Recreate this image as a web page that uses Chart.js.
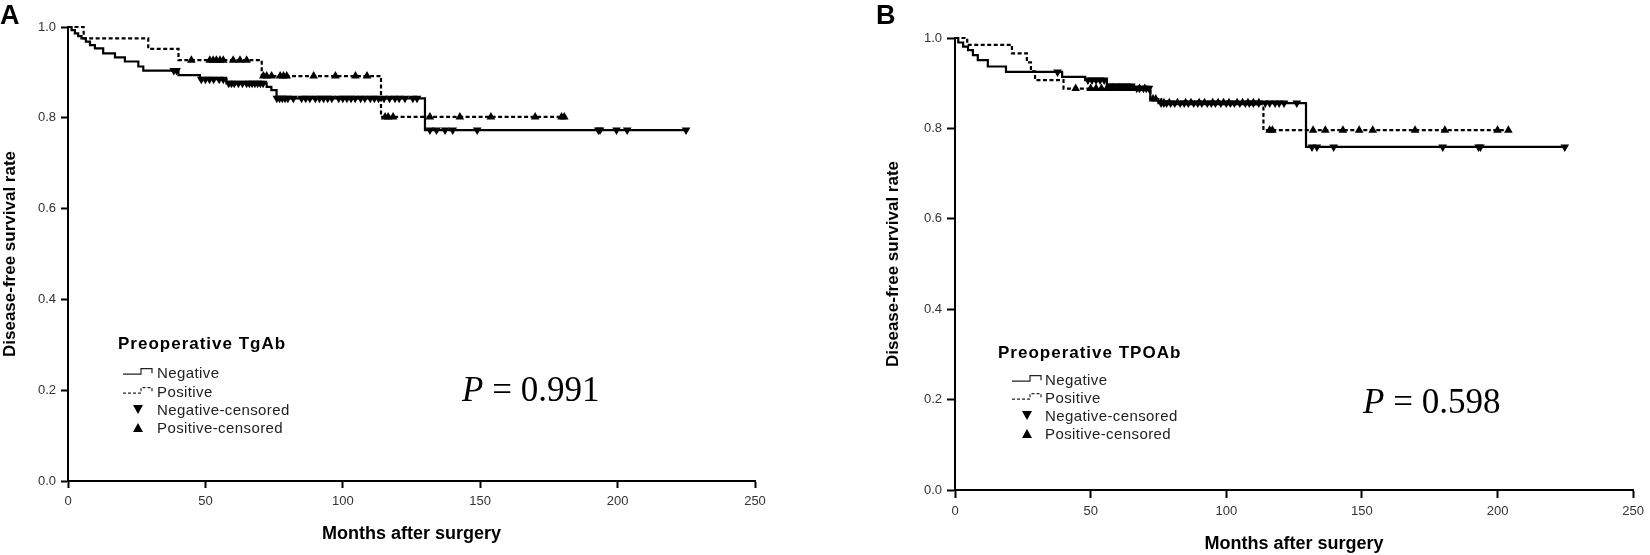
<!DOCTYPE html>
<html>
<head>
<meta charset="utf-8">
<title>Disease-free survival by preoperative TgAb / TPOAb</title>
<script src="https://cdn.jsdelivr.net/npm/chart.js@4.4.1/dist/chart.umd.min.js"></script>
<style>
  body { margin: 0; width: 1650px; height: 555px; background: #fff; position: relative; overflow: hidden;
         font-family: "Liberation Sans", Arial, sans-serif; }
  canvas { position: absolute; top: 0; }
  .tag { position: absolute; top: 2px; font-weight: bold; font-size: 27px; line-height: 1; color: #000; }
  .lg-title { position: absolute; font-weight: bold; font-size: 17px; letter-spacing: 1px; color: #000;
              white-space: nowrap; line-height: 1; transform: translateY(-50%); }
  .lg-text { position: absolute; font-size: 15px; letter-spacing: 0.4px; color: #222; white-space: nowrap;
             line-height: 1; transform: translateY(-50%); }
  .lg-mark { position: absolute; transform: translate(-50%, -50%); }
  .lg-line { position: absolute; transform: translateY(-60%); }
  .pval { position: absolute; font-family: "Liberation Serif", "Times New Roman", serif; font-size: 35px;
          color: #000; white-space: nowrap; line-height: 1; transform: translateY(-50%); }
</style>
</head>
<body>
<canvas id="chartA" width="830" height="555" style="left:0px"></canvas>
<canvas id="chartB" width="820" height="555" style="left:830px"></canvas>

<script>
// axis ticks
const xTicks = [0, 50, 100, 150, 200, 250];
const yTicks = [0, 0.2, 0.4, 0.6, 0.8, 1.0];
const xTitle = "Months after surgery";
const yTitle = "Disease-free survival rate";
const legendLabels = ["Negative", "Positive", "Negative-censored", "Positive-censored"];
const pValues = ["0.991", "0.598"];

// panel A - preoperative TgAb: [month, survival] at each drop
const tgNegSteps = [[0, 1.0], [1.3, 0.993], [2.5, 0.986], [3.7, 0.980], [4.9, 0.975], [6.5, 0.968], [8.0, 0.960],
  [9.8, 0.953], [12.8, 0.942], [17.1, 0.933], [20.7, 0.924], [25.6, 0.913], [27.4, 0.904], [40.2, 0.894],
  [48.0, 0.885], [57.7, 0.876], [72.3, 0.868], [74.0, 0.861], [75.9, 0.843], [129.9, 0.773], [225, 0.773]];
const tgPosSteps = [[0, 1.0], [5.7, 0.975], [29.2, 0.952], [40.2, 0.927], [70.5, 0.892], [113.9, 0.802], [181.4, 0.802]];
const tgNegCens = [[38.5, 0.904], [39.5, 0.904],
  [48.5, 0.885], [50, 0.885], [51.5, 0.885], [53, 0.885], [55, 0.885], [56.5, 0.885],
  [58.5, 0.876], [59.5, 0.876], [60.5, 0.876], [62, 0.876], [63.5, 0.876], [65, 0.876], [66, 0.876], [67, 0.876],
  [68, 0.876], [69, 0.876], [70, 0.876], [71, 0.876],
  [76, 0.843], [77, 0.843], [78, 0.843], [79, 0.843], [80, 0.843], [82, 0.843], [85, 0.843], [86.5, 0.843],
  [88, 0.843], [90, 0.843], [91.5, 0.843], [93, 0.843], [94.5, 0.843], [96, 0.843], [98.5, 0.843], [100, 0.843],
  [101.5, 0.843], [103, 0.843], [104.5, 0.843], [106.5, 0.843], [108, 0.843], [110, 0.843], [111.5, 0.843],
  [113, 0.843], [115, 0.843], [117, 0.843], [119, 0.843], [120.5, 0.843], [122.6, 0.843], [125.5, 0.843], [127, 0.843],
  [131.7, 0.773], [134.1, 0.773], [137.2, 0.773], [140, 0.773], [148.9, 0.773], [193, 0.773], [193.6, 0.773],
  [199.6, 0.773], [203.5, 0.773], [224.9, 0.773]];
const tgPosCens = [[44.9, 0.927], [51.6, 0.927], [52.8, 0.927], [54, 0.927], [55.3, 0.927], [56.5, 0.927],
  [60.1, 0.927], [62.6, 0.927], [65, 0.927],
  [71.1, 0.892], [72.3, 0.892], [74.1, 0.892], [77.2, 0.892], [78.4, 0.892], [79.6, 0.892], [89.4, 0.892],
  [97.3, 0.892], [104.6, 0.892], [108.8, 0.892],
  [115.4, 0.802], [116.5, 0.802], [118.3, 0.802], [131.7, 0.802], [142.6, 0.802], [153.9, 0.802], [170, 0.802],
  [179.6, 0.802], [180.6, 0.802]];

// panel B - preoperative TPOAb
const tpoNegSteps = [[0, 1.0], [1.2, 0.990], [3.0, 0.981], [4.8, 0.973], [6.6, 0.962], [8.4, 0.951], [12.1, 0.937],
  [18.8, 0.925], [39.5, 0.914], [48, 0.907], [56, 0.894], [66, 0.889], [72, 0.865], [75, 0.856], [129.4, 0.759], [225, 0.759]];
const tpoPosSteps = [[0, 1.0], [4.5, 0.985], [21, 0.966], [26.5, 0.946], [28, 0.926], [29.5, 0.907], [40, 0.888],
  [72, 0.865], [76, 0.857], [113.7, 0.796], [204, 0.796]];
const tpoNegCens = [[37.8, 0.925],
  [49, 0.907], [50.5, 0.907], [52, 0.907], [53.5, 0.907], [55, 0.907],
  [57, 0.894], [58, 0.894], [59.5, 0.894], [61, 0.894], [62, 0.894], [63.5, 0.894], [65, 0.894],
  [67, 0.889], [68, 0.889], [69.5, 0.889], [70.5, 0.889], [71.5, 0.889],
  [76, 0.856], [77, 0.856], [78, 0.856], [79.5, 0.856], [81, 0.856], [83, 0.856], [84.5, 0.856], [86, 0.856],
  [88, 0.856], [89.5, 0.856], [91, 0.856], [93, 0.856], [94.5, 0.856], [96, 0.856], [98, 0.856], [100, 0.856],
  [101.5, 0.856], [103, 0.856], [105, 0.856], [107, 0.856], [108.5, 0.856], [110, 0.856], [112, 0.856],
  [114.4, 0.856], [116, 0.856], [118, 0.856], [119.5, 0.856], [121.3, 0.856], [126, 0.856],
  [131.6, 0.759], [133.4, 0.759], [139.6, 0.759], [179.8, 0.759], [193, 0.759], [193.7, 0.759], [224.8, 0.759]];
const tpoPosCens = [[44.5, 0.888], [50, 0.888], [52, 0.888], [54, 0.888], [56, 0.888], [58, 0.888], [60, 0.888],
  [62, 0.888], [64, 0.888], [66, 0.888], [68, 0.888], [70, 0.888],
  [73, 0.865], [74, 0.865],
  [77, 0.857], [79, 0.857], [82, 0.857], [85, 0.857], [87, 0.857], [90, 0.857], [92, 0.857], [95, 0.857],
  [97, 0.857], [99, 0.857], [101, 0.857], [104, 0.857], [106, 0.857], [108, 0.857], [110, 0.857], [112, 0.857],
  [116, 0.796], [117, 0.796], [132, 0.796], [136.5, 0.796], [143, 0.796], [149, 0.796], [154, 0.796],
  [169.6, 0.796], [180.6, 0.796], [200, 0.796], [204, 0.796]];

const FONT = '"Liberation Sans", Arial, sans-serif';

function xy(pairs) {
  return pairs.map(([x, y]) => ({ x, y }));
}

function makePanel(id, p) {
  const ctx = document.getElementById(id);
  new Chart(ctx, {
    type: "line",
    data: {
      datasets: [
        { data: xy(p.neg), stepped: "before", borderColor: "#000", borderWidth: 2.2, pointRadius: 0, clip: 6 },
        { data: xy(p.pos), stepped: "before", borderColor: "#000", borderWidth: 2.2, borderDash: [4, 2.5], pointRadius: 0, clip: 6 },
        { data: xy(p.negCens), showLine: false, pointStyle: "triangle", rotation: 180, pointRadius: 5,
          backgroundColor: "#000", borderColor: "#000", borderWidth: 0, clip: 8 },
        { data: xy(p.posCens), showLine: false, pointStyle: "triangle", pointRadius: 5,
          backgroundColor: "#000", borderColor: "#000", borderWidth: 0, clip: 8 }
      ]
    },
    options: {
      responsive: false,
      animation: false,
      events: [],
      layout: { padding: { left: p.padLeft, right: p.padRight, top: p.padTop, bottom: 0 } },
      plugins: { legend: { display: false }, tooltip: { enabled: false } },
      scales: {
        x: {
          type: "linear", min: 0, max: 250,
          afterBuildTicks: s => { s.ticks = xTicks.map(v => ({ value: v })); },
          afterFit: s => { s.height = p.xHeight; },
          grid: { drawOnChartArea: false, drawTicks: true, tickLength: p.tickLen, tickWidth: 2, tickColor: "#000" },
          border: { display: true, color: "#000", width: 2 },
          ticks: { color: "#333", font: { size: 13, family: FONT }, padding: 6, maxRotation: 0 },
          title: { display: true, text: xTitle, color: "#000", font: { size: 18, weight: "bold", family: FONT },
                   padding: { top: 0, bottom: p.xTitlePad } }
        },
        y: {
          type: "linear", min: 0, max: 1,
          afterBuildTicks: s => { s.ticks = yTicks.map(v => ({ value: v })); },
          afterFit: s => { s.width = p.yWidth; },
          grid: { drawOnChartArea: false, drawTicks: true, tickLength: p.tickLen, tickWidth: 2, tickColor: "#000" },
          border: { display: true, color: "#000", width: 2 },
          ticks: { color: "#333", font: { size: 13, family: FONT }, padding: 5, callback: v => v.toFixed(1) },
          title: { display: true, text: yTitle, color: "#000", font: { size: 17, weight: "bold", family: FONT },
                   padding: { top: p.yTitlePad, bottom: 0 } }
        }
      }
    }
  });
}

makePanel("chartA", { neg: tgNegSteps, pos: tgPosSteps, negCens: tgNegCens, posCens: tgPosCens,
  padLeft: 0, padRight: 75, padTop: 27, yWidth: 68, xHeight: 74, tickLen: 7, xTitlePad: 10, yTitlePad: 0 });
makePanel("chartB", { neg: tpoNegSteps, pos: tpoPosSteps, negCens: tpoNegCens, posCens: tpoPosCens,
  padLeft: 51, padRight: 11, padTop: 38, yWidth: 74, xHeight: 65, tickLen: 8, xTitlePad: 0, yTitlePad: 2 });

// overlays: panel letters, legends, p values
const SOLID = '<svg width="30" height="8"><path d="M0 7H18V1.5H29V6" fill="none" stroke="#222" stroke-width="1.2"/></svg>';
const DASH = '<svg width="30" height="8"><path d="M0 7H18V1.5H29V6" fill="none" stroke="#222" stroke-width="1.2" stroke-dasharray="3 2"/></svg>';
const DOWN = '<svg width="10" height="9"><polygon points="0,0 10,0 5,9" fill="#000"/></svg>';
const UP = '<svg width="10" height="9"><polygon points="5,0 10,9 0,9" fill="#000"/></svg>';

function el(cls, left, top, html) {
  const d = document.createElement("div");
  d.className = cls;
  d.style.left = left + "px";
  d.style.top = top + "px";
  d.innerHTML = html;
  document.body.appendChild(d);
}

function legend(L) {
  el("lg-title", L.titleX, L.titleY, L.title);
  const glyphs = [SOLID, DASH, DOWN, UP];
  legendLabels.forEach((label, i) => {
    const y = L.rowY[i];
    if (i < 2) el("lg-line", L.sampleX, y, glyphs[i]);
    else el("lg-mark", L.markX, y, glyphs[i]);
    el("lg-text", L.textX, y, label);
  });
}

el("tag", 0, 2, "A");
el("tag", 876, 2, "B");
legend({ title: "Preoperative TgAb", titleX: 118, titleY: 343, sampleX: 123, markX: 138, textX: 157,
         rowY: [372, 391, 409, 427] });
legend({ title: "Preoperative TPOAb", titleX: 998, titleY: 352, sampleX: 1012, markX: 1027, textX: 1045,
         rowY: [379, 397, 415, 433] });
el("pval", 462, 389, "<i>P</i> = " + pValues[0]);
el("pval", 1363, 401, "<i>P</i> = " + pValues[1]);
</script>
</body>
</html>
